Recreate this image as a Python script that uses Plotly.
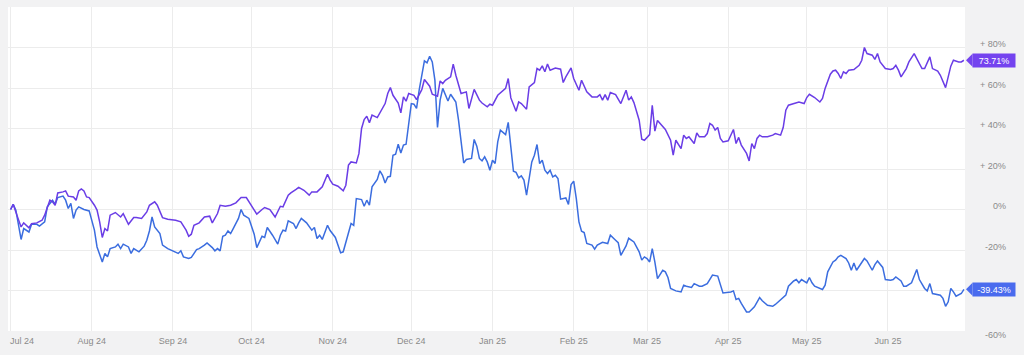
import pandas as pd
import plotly.graph_objects as go

START = "2024-07-01"

# Purple series: day offset from 2024-07-01 and % change
purple_day = [0,1,3,4,5,7,8,10,12,13,15,16,17,18,20,21,22,24,25,26,27,28,29,30,32,33,34,35,36,37,38,40,42,43,45,47,48,50,52,53,55,56,58,60,63,65,67,68,69,70,72,74,76,77,79,80,82,84,86,88,90,92,94,96,97,99,101,103,104,106,107,109,110,112,114,115,117,119,121,122,123,125,127,128,129,130,132,133,134,135,136,137,138,140,142,143,144,145,146,148,149,150,151,152,154,155,157,158,160,161,163,164,165,166,168,169,170,172,174,175,177,179,180,182,183,184,186,188,189,190,191,193,194,195,197,198,200,201,202,203,204,205,206,208,210,211,212,214,215,217,218,220,222,224,225,226,227,228,229,231,233,235,236,237,238,240,241,242,244,245,246,247,250,252,253,254,256,257,258,259,261,262,263,265,266,267,268,269,270,271,272,274,276,277,278,279,281,282,283,284,285,286,287,289,291,292,294,295,296,297,299,300,301,303,304,305,307,309,310,311,313,314,315,316,317,318,319,320,322,324,325,326,327,329,330,331,332,334,336,337,338,339,340,342,343,345,346,348,349,351,352,354,355,357,358,359,360,362,363,364]
purple_val = [0,2.5,-5,-8.6,-6.6,-9,-7,-6.6,-5.3,-2.8,4.6,3.8,2.1,8.2,8.7,9.2,6.6,6.2,4.6,9.2,10.2,9.2,6.2,5.9,2.1,-0.3,-6.1,-13.8,-9.4,-10.6,-2.8,-1.5,-3.7,-2,-7.3,-4,-4,-4.4,-1.2,2.1,3.8,2.1,-4,-4.8,-5.3,-6.1,-10.2,-13.2,-12.2,-7.8,-6.6,-3.7,-3.3,-6.6,-2,2.1,1.6,2.1,3.3,5.9,5.9,1.6,-2.3,0,1,0,-3.7,1.6,1.3,7.1,8.2,9.9,10.9,9.5,7.1,8.7,8.7,11.2,17.4,14.5,12.5,11.5,9.2,12,21.9,23.5,23,27.7,40,44.4,46.1,42.8,46.6,45.4,49.9,52.3,57.3,60.2,56.4,52.6,47.7,55.6,53.5,57.3,56.4,54.3,59.2,64.2,60.9,56.9,55.9,63.5,62.2,63.8,65.5,71.8,66.3,57.3,58.1,49.9,59.3,54,52.6,50.7,52,51.5,56.4,58.9,59.8,64.7,55.1,48.5,53.1,52.3,49.5,60.5,62.7,69.6,68.8,70.9,68,71.8,68.8,69.9,69.3,62.7,65.5,69.9,64.7,58.9,63.8,58.1,55.6,55.6,56.7,54,56.7,54,57.8,56.7,52.3,58.9,54,55.6,52.8,44.1,34.7,34.2,37,51.5,38.7,44,39.5,34.2,26.8,34.2,30.1,36.7,35.1,35.9,32.6,37.8,35.9,35.9,37.5,42.5,41.6,39.2,40.5,35.1,33.4,33.9,39.5,32.6,35.6,31.8,27.7,24,32.6,30.1,35.1,36.7,35.9,35.9,36.7,37.5,36.7,40.5,49,51.5,52.3,52.6,53.1,52.3,55.3,56.9,55.3,53.1,54.8,59.8,66.8,68.4,68.8,67.2,64.7,68,67.2,68.8,69.1,71.2,73.7,80,77,76.2,74.1,77,72.9,69.6,69.1,69.6,71.2,68.8,65.5,69.6,72.9,77,74.6,69.6,69.6,75.4,69.6,68.4,66.3,60.2,65.5,70.8,73.7,72.9,72.9,73.71]

# Blue series: day offset from 2024-07-01 and % change
blue_day = [0,1,2,3,4,5,6,7,8,10,11,13,14,16,17,18,20,21,22,23,24,25,26,28,30,31,32,33,35,36,37,38,40,41,42,43,45,46,47,49,51,52,53,54,55,57,58,60,61,63,64,65,66,68,69,71,72,74,75,77,78,79,80,81,82,83,84,85,87,88,89,91,92,93,94,96,97,98,100,102,103,104,105,106,108,109,110,111,113,114,115,116,117,118,119,121,122,124,126,127,129,130,131,132,134,135,136,137,138,140,141,142,143,144,145,146,147,148,149,150,151,152,153,154,155,156,157,158,159,160,161,162,163,164,165,166,167,168,170,171,172,173,174,176,177,178,179,180,181,182,183,184,185,186,187,188,189,190,191,192,193,194,195,196,197,198,199,200,201,202,203,204,205,206,207,208,209,210,212,213,214,215,216,217,218,219,220,222,223,224,226,228,229,231,232,233,235,236,238,240,241,242,243,244,245,246,247,249,250,251,252,254,256,257,258,260,261,263,264,266,267,268,270,271,272,275,276,277,278,279,281,282,284,286,287,289,291,292,294,296,297,299,300,301,302,304,305,306,307,308,310,311,312,314,315,316,317,319,320,321,322,323,325,326,327,329,330,331,333,334,336,337,338,340,341,342,344,346,347,349,350,351,352,354,355,356,357,358,359,360,361,363,364]
blue_val = [0,2.6,-0.3,-7.3,-14.8,-9.4,-10.2,-11.1,-7.3,-7.3,-8.2,-6.1,1.3,4.6,2.6,5.9,6.6,4.6,0.5,3,-4.4,-0.3,1.3,0,-0.7,-5.3,-10.2,-18.5,-25.9,-21.7,-23.4,-19.3,-18.5,-17.1,-19.3,-17.1,-18.5,-21.7,-19.3,-20.9,-18.1,-15.2,-10.6,-3.7,-8.6,-11.9,-17.6,-19.3,-19.8,-20.9,-21.7,-20.4,-23.4,-24.2,-23.7,-19.8,-19.3,-17.6,-16.5,-18.8,-20.4,-19.3,-20.4,-13.2,-12.7,-10.6,-11.9,-9.4,-4.4,0,-2.8,-4.4,-8.6,-12.2,-18.8,-13.2,-13.8,-8.9,-12.7,-17.1,-12.7,-10.2,-10.6,-5.6,-6.9,-9.4,-6.6,-4.4,-6.6,-8.2,-10.2,-8.9,-14.3,-12.7,-14.8,-7.8,-10.4,-13.8,-21.4,-20.9,-11.9,-6.9,-7.8,5.4,4.9,1.6,4.6,2.1,11.2,14.8,19.1,16.9,13.1,16.1,16.4,26.8,27.3,32.2,27.9,31.8,32.2,42.8,52.3,52,49.9,58.9,67.2,73.4,72.4,75.7,72.9,63.9,40.5,54,59.8,56.4,53.6,56.9,53.1,44.4,32.6,23,24.7,25.2,34.6,31.3,25.2,24,26,23.5,19.4,24.3,22.7,33.4,39.2,38.3,37,43,30.1,18.9,18.3,15.6,16.6,14.5,7.1,15.3,23.5,26.8,32.1,22.7,24.3,19.4,17.8,19.4,16.1,16.9,15.3,5.1,5.7,2.5,12.3,14,5.4,-6.1,-10.7,-11.4,-16.8,-17.6,-19.6,-17.6,-16.2,-16.8,-12.7,-15.2,-16.4,-22.6,-18,-14.2,-16,-20.9,-25,-23.4,-24.2,-25.9,-19.3,-26,-34.1,-30,-30.8,-33.6,-39,-40.2,-40.7,-37.4,-37.9,-38.5,-36.6,-37.9,-37.9,-36.6,-34.1,-32.4,-32.9,-36.6,-41.2,-40.7,-40.2,-44.4,-43.9,-46.4,-50.6,-50.6,-48.1,-43.5,-45.1,-47.3,-47.8,-46.9,-44.8,-42.3,-37.9,-35.3,-34.6,-36.2,-34.6,-36.2,-33.6,-36.2,-37.9,-38.5,-39.5,-37.4,-30.8,-25.9,-25,-23.4,-22.6,-24.2,-26.4,-30,-26.4,-30,-25.9,-24.2,-25.4,-30,-27.2,-25.4,-28.6,-34.6,-34.9,-34.6,-33.3,-35.3,-37.9,-37.9,-36.2,-29.6,-34.6,-39,-40.2,-36.6,-41.5,-41.8,-42.3,-43.9,-47.8,-45.6,-39,-40.7,-42.8,-41.5,-39.43]

# Right-axis tick labels (the -40% label is hidden under the end label in the reference)
y_ticks = [80, 60, 40, 20, 0, -20, -40, -60]
y_label_vals = [80, 60, 40, 20, 0, -20, -60]
y_label_text = ["+ 80%", "+ 60%", "+ 40%", "+ 20%", "0%", "-20%", "-60%"]
first_month_label = "Jul 24"

PURPLE_LINE = "#6a3de6"
PURPLE_BOX = "#7443ef"
BLUE_LINE = "#3b6ddf"
BLUE_BOX = "#4a6bee"
BG = "#f2f2f3"
TXT = "#8a8a8a"
FONT = "Liberation Sans, Arial, sans-serif"

start = pd.Timestamp(START)
purple_x = [start + pd.Timedelta(days=d) for d in purple_day]
blue_x = [start + pd.Timedelta(days=d) for d in blue_day]

fig = go.Figure()
fig.add_trace(go.Scatter(x=blue_x, y=blue_val, mode="lines",
                         line=dict(color=BLUE_LINE, width=1.5), name="Blue"))
fig.add_trace(go.Scatter(x=purple_x, y=purple_val, mode="lines",
                         line=dict(color=PURPLE_LINE, width=1.5), name="Purple"))

annotations = []
for v, t in zip(y_label_vals, y_label_text):
    annotations.append(dict(x=1, xref="paper", y=v, yref="y", text=t,
                            showarrow=False, xanchor="right", yanchor="middle",
                            xshift=43, yshift=(-4 if v == -60 else 3.5),
                            font=dict(size=9, color=TXT, family=FONT)))

# first month label (kept inside the page, shifted right like the reference)
annotations.append(dict(x=START, xref="x", y=0, yref="paper",
                        text=first_month_label, showarrow=False,
                        xanchor="left", yanchor="middle", xshift=-3, yshift=-10,
                        font=dict(size=9, color=TXT, family=FONT)))

shapes = []
for val, box in ((purple_val[-1], PURPLE_BOX), (blue_val[-1], BLUE_BOX)):
    annotations.append(dict(x=1, xref="paper", y=val, yref="y",
                            text=f"{val:.2f}%", showarrow=False,
                            xanchor="left", yanchor="middle", xshift=7,
                            bgcolor=box, borderpad=2, width=38, height=9,
                            font=dict(size=9, color="white", family=FONT)))
    shapes.append(dict(type="path", xref="paper", yref="y",
                       xsizemode="pixel", ysizemode="pixel",
                       xanchor=1, yanchor=val,
                       path="M 1 0 L 7.5 6.5 L 7.5 -6.5 Z",
                       fillcolor=box, line=dict(width=0)))

fig.update_layout(
    width=1024, height=355,
    margin=dict(l=8, r=59, t=7, b=24, autoexpand=False),
    paper_bgcolor=BG,
    plot_bgcolor="#ffffff",
    showlegend=False,
    font=dict(family=FONT, size=9, color=TXT),
    annotations=annotations,
    shapes=shapes,
    xaxis=dict(
        range=["2024-06-30", "2025-06-30 10:00"],
        type="date", tick0=START, dtick="M1", tickformat="%b %y",
        showgrid=True, gridcolor="#ececec", gridwidth=1,
        zeroline=False, showline=False, ticks="", automargin=False,
        ticklabelstandoff=3,
        tickfont=dict(size=9, color=TXT),
    ),
    yaxis=dict(
        range=[-60, 100], side="right", tickvals=y_ticks,
        showticklabels=False, showgrid=True, gridcolor="#ececec",
        zeroline=False, showline=False, ticks="", automargin=False,
    ),
)

fig.write_html(
    "out.html",
    config={"displayModeBar": False},
    post_script=f"document.body.style.margin='0px';document.body.style.background='{BG}';",
)
